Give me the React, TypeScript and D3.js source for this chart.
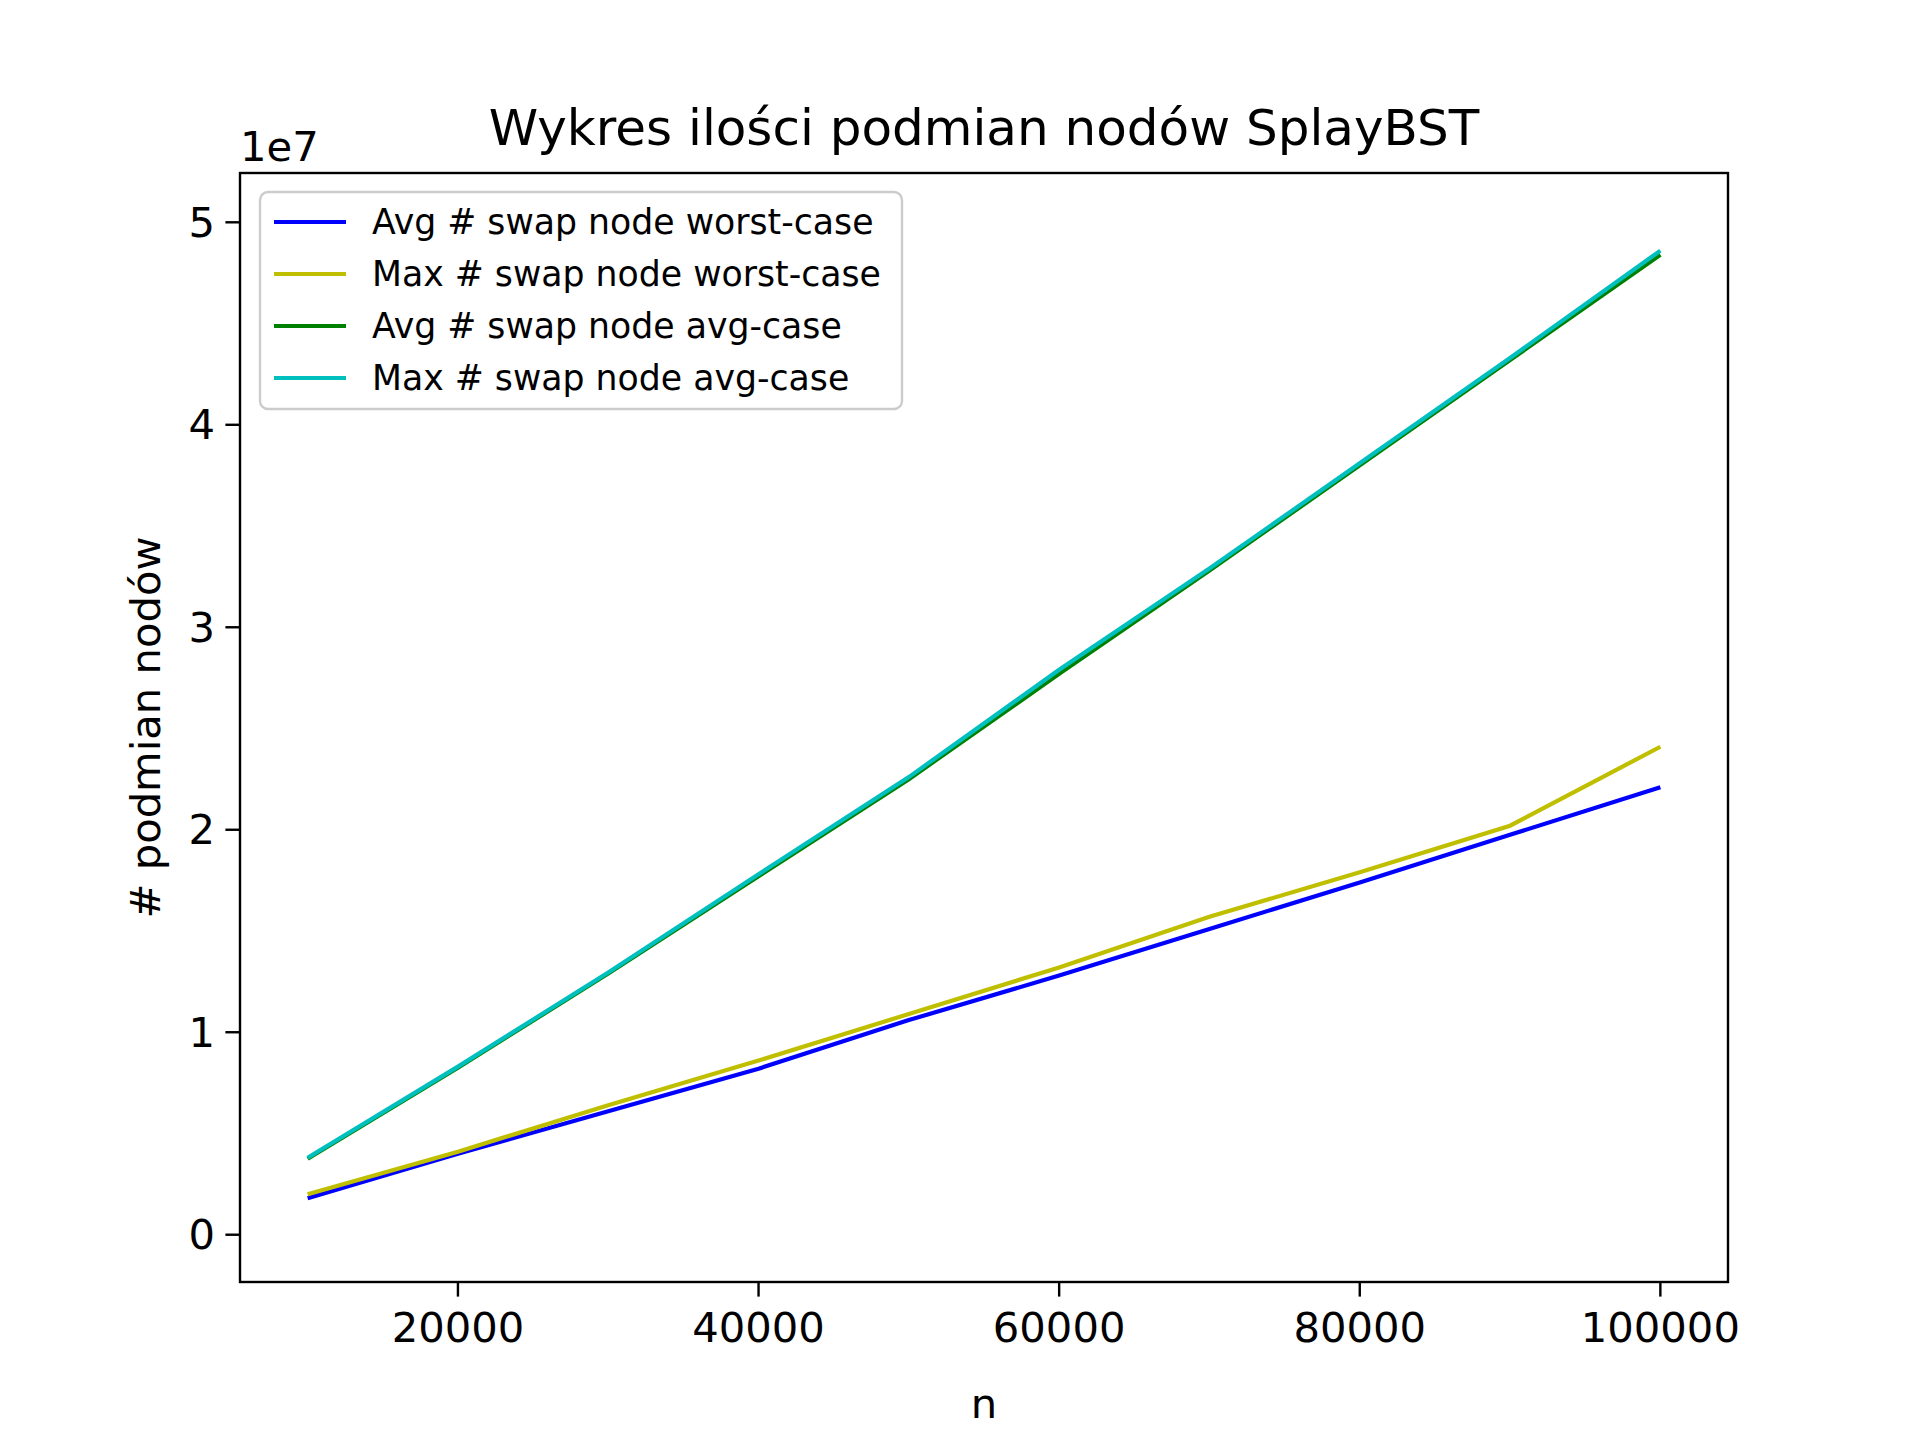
import React from 'react';
import * as d3 from 'd3';

const ns = [10000, 20000, 30000, 40000, 50000, 60000, 70000, 80000, 90000, 100000];
const avgWorst = [1.8, 4.0, 6.1, 8.2, 10.6, 12.8, 15.1, 17.4, 19.75, 22.1];
const maxWorst = [2.0, 4.1, 6.4, 8.6, 10.9, 13.2, 15.7, 17.9, 20.2, 24.1];
const avgAvg = [3.75, 8.25, 12.9, 17.7, 22.5, 27.7, 32.8, 38.0, 43.2, 48.4];
const maxAvg = [3.8, 8.3, 12.95, 17.8, 22.6, 27.9, 32.9, 38.1, 43.3, 48.6];
const xTicks = [20000, 40000, 60000, 80000, 100000];
const yTicks = [0, 1, 2, 3, 4, 5];

const series = [
  { name: 'Avg # swap node worst-case', values: avgWorst, color: '#0000ff' },
  { name: 'Max # swap node worst-case', values: maxWorst, color: '#bfbf00' },
  { name: 'Avg # swap node avg-case', values: avgAvg, color: '#008000' },
  { name: 'Max # swap node avg-case', values: maxAvg, color: '#00bfbf' },
];

const W = 1920, H = 1440;
const m = { left: 240, right: 1728, top: 173, bottom: 1282 };
const font = 'DejaVu Sans';

export default function App() {
  const x = d3.scaleLinear().domain([5500, 104500]).range([m.left, m.right]);
  const y = d3.scaleLinear().domain([-0.2335, 5.2435]).range([m.bottom, m.top]);
  const line = d3.line<number>().x((_, i) => x(ns[i])).y(d => y(d / 10));
  return (
    <svg width={W} height={H} style={{ display: 'block', margin: -8 }} fontFamily={font}>
      <rect width={W} height={H} fill="#fff" />
      {series.map(s => (
        <path key={s.name} d={line(s.values) || ''} fill="none" stroke={s.color} strokeWidth={4.2} />
      ))}
      <rect x={m.left} y={m.top} width={m.right - m.left} height={m.bottom - m.top} fill="none" stroke="#000" strokeWidth={2.4} />
      {xTicks.map(t => (
        <g key={t}>
          <line x1={x(t)} x2={x(t)} y1={m.bottom} y2={m.bottom + 14.6} stroke="#000" strokeWidth={2.4} />
          <text x={x(t)} y={m.bottom + 60} textAnchor="middle" fontSize={41.7}>{t}</text>
        </g>
      ))}
      {yTicks.map(t => (
        <g key={t}>
          <line x1={m.left - 14.6} x2={m.left} y1={y(t)} y2={y(t)} stroke="#000" strokeWidth={2.4} />
          <text x={m.left - 25} y={y(t)} dy="0.35em" textAnchor="end" fontSize={41.7}>{t}</text>
        </g>
      ))}
      <text x={m.left} y={m.top - 12} fontSize={41.7}>1e7</text>
      <text x={(m.left + m.right) / 2} y={1418} textAnchor="middle" fontSize={41.7}>n</text>
      <text transform={`translate(160,${(m.top + m.bottom) / 2}) rotate(-90)`} textAnchor="middle" fontSize={41.7}># podmian nodów</text>
      <text x={(m.left + m.right) / 2} y={145} textAnchor="middle" fontSize={50}>Wykres ilości podmian nodów SplayBST</text>
      <g transform="translate(260,192)">
        <rect width={642} height={217} rx={8} fill="#fff" fillOpacity={0.8} stroke="#ccc" strokeWidth={2.4} />
        {series.map((s, i) => (
          <g key={s.name} transform={`translate(0,${30 + i * 52})`}>
            <line x1={14} x2={86} stroke={s.color} strokeWidth={4.2} />
            <text x={112} dy="0.35em" fontSize={34.7}>{s.name}</text>
          </g>
        ))}
      </g>
    </svg>
  );
}
